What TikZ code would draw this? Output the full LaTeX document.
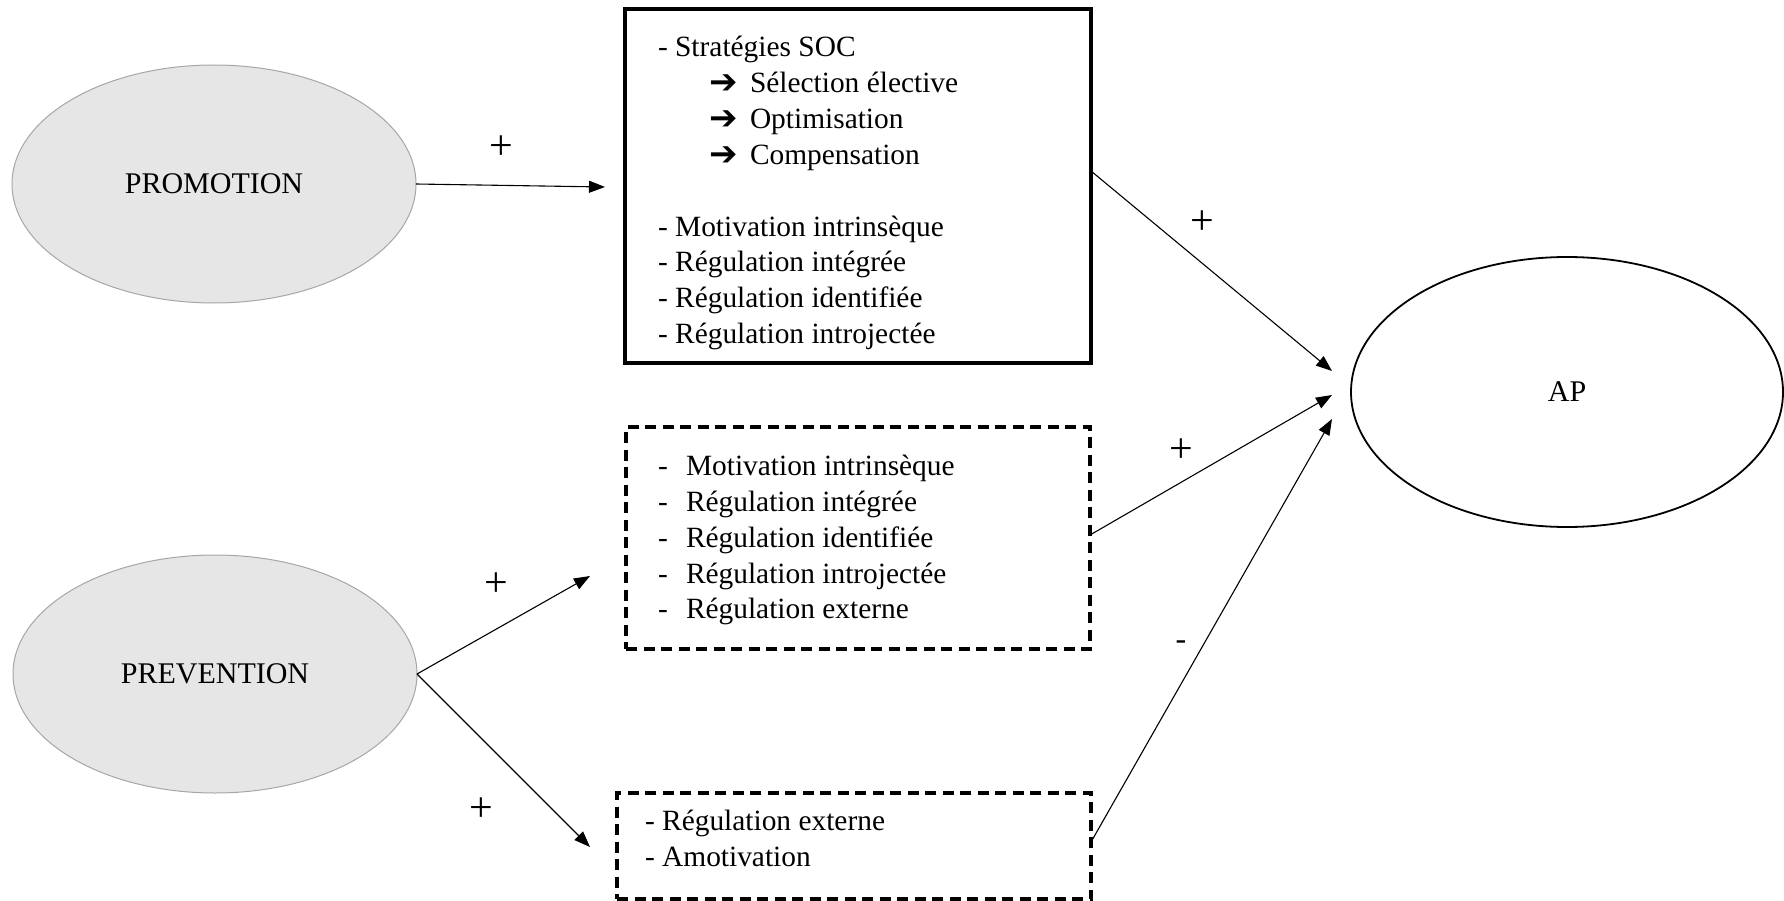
\documentclass[tikz,border=0pt]{standalone}
\usepackage{fontspec}
\setmainfont{Liberation Serif}
\newfontfamily\dingfont{DejaVu Sans}
\usetikzlibrary{shapes.geometric,arrows.meta}
\definecolor{regfill}{HTML}{E6E6E6}
\definecolor{regline}{HTML}{A6A6A6}
\begin{document}
\begin{tikzpicture}[x=1pt,y=-1pt,
  every node/.style={inner sep=0pt,outer sep=0pt,font=\fontsize{30}{36}\selectfont},
  regfocus/.style={ellipse,draw=regline,line width=1pt,fill=regfill,
    minimum width=404pt,minimum height=238pt},
  outcome/.style={ellipse,draw=black,line width=1.8pt,
    minimum width=432pt,minimum height=270pt},
  socbox/.style={rectangle,draw=black,line width=4.5pt},
  dashbox/.style={rectangle,draw=black,line width=3.2pt,
    dash pattern=on 11pt off 6.5pt},
  txt/.style={anchor=base west,font=\fontsize{29.4}{36}\selectfont},
  sign/.style={anchor=center,font=\fontsize{42}{42}\selectfont},
  link/.style={draw=black,line width=1.1pt,-{Triangle[length=16pt,width=12pt]}},
  dingarrow/.style={anchor=base west,font=\fontsize{34}{36}\dingfont\bfseries}]
\useasboundingbox (0,0) rectangle (1784,901);

% focus ellipses and outcome
\node[regfocus] (promo) at (214,184) {PROMOTION};
\node[regfocus] (prev) at (215,674) {PREVENTION};
\node[outcome] (ap) at (1567,392) {AP};

% boxes
\node[socbox,minimum width=466pt,minimum height=354pt] (soc) at (858,186) {};
\node[dashbox,minimum width=464pt,minimum height=222pt] (motiv) at (858,538) {};
\node[dashbox,minimum width=474pt,minimum height=106pt] (amot) at (854,846) {};

% SOC box content
\node[txt] (s1) at (658,57) {- Stratégies SOC};
\node[dingarrow] (a1) at (709,94) {➔};
\node[txt] (s2) at (750,92.8) {Sélection élective};
\node[dingarrow] (a2) at (709,130) {➔};
\node[txt] (s3) at (750,128.7) {Optimisation};
\node[dingarrow] (a3) at (709,166) {➔};
\node[txt] (s4) at (750,164.5) {Compensation};
\node[txt] (s5) at (658,236.2) {- Motivation intrinsèque};
\node[txt] (s6) at (658,272.0) {- Régulation intégrée};
\node[txt] (s7) at (658,307.9) {- Régulation identifiée};
\node[txt] (s8) at (658,343.7) {- Régulation introjectée};

% motivation box content
\node[txt] (d1) at (658,475.5) {-};
\node[txt] (m1) at (686,475.5) {Motivation intrinsèque};
\node[txt] (d2) at (658,511.3) {-};
\node[txt] (m2) at (686,511.3) {Régulation intégrée};
\node[txt] (d3) at (658,547.2) {-};
\node[txt] (m3) at (686,547.2) {Régulation identifiée};
\node[txt] (d4) at (658,583.0) {-};
\node[txt] (m4) at (686,583.0) {Régulation introjectée};
\node[txt] (d5) at (658,618.9) {-};
\node[txt] (m5) at (686,618.9) {Régulation externe};

% amotivation box content
\node[txt] (e1) at (645,830.5) {- Régulation externe};
\node[txt] (e2) at (645,866.3) {- Amotivation};

% arrow end points
\coordinate (promoEnd) at (605,187);
\coordinate (prevUp) at (590,576);
\coordinate (prevDown) at (590,847);
\coordinate (apIn1) at (1332,371);
\coordinate (apIn2) at (1332,395);
\coordinate (apIn3) at (1332,419);

% connectors
\draw[link] (promo.east) -- (promoEnd);
\draw[link] (prev.east) -- (prevUp);
\draw[link] (prev.east) -- (prevDown);
\draw[link] ([yshift=15pt]soc.east) -- (apIn1);
\draw[link] ([yshift=3pt]motiv.east) -- (apIn2);
\draw[link] ([yshift=4pt]amot.east) -- (apIn3);

% signs
\node[sign] (p1) at (501,148) {+};
\node[sign] (p2) at (1202,223) {+};
\node[sign] (p3) at (1181,451) {+};
\node[sign] (p4) at (496,585) {+};
\node[sign] (p5) at (481,810) {+};
\node[sign,font=\fontsize{32}{36}\selectfont] (n1) at (1181,645) {-};
\end{tikzpicture}
\end{document}
